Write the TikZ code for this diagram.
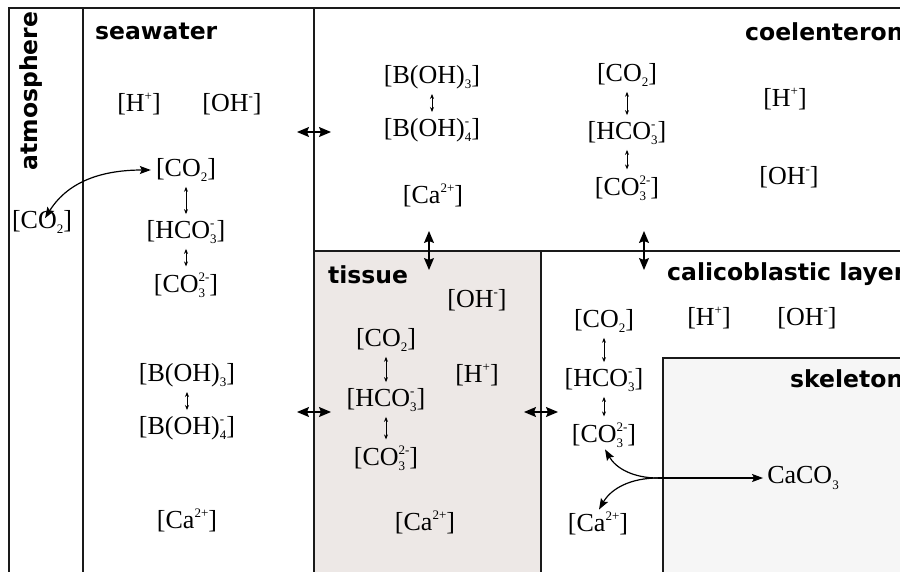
\documentclass[tikz,border=0pt]{standalone}
\usepackage{fontspec}
\setmainfont{Liberation Serif}
\newfontfamily\labfont{DejaVu Sans}
\usetikzlibrary{arrows.meta}
\definecolor{tissuefill}{HTML}{EDE8E6}
\definecolor{skelfill}{HTML}{F6F6F6}
\definecolor{linecol}{HTML}{1A1A1A}
\newbox\chboxA
\newbox\chboxB
\newcommand\chsub[1]{\raisebox{-0.2em}{\fontsize{13}{13}\selectfont #1}}
\newcommand\chsup[1]{\raisebox{0.42em}{\fontsize{13}{13}\selectfont #1}}
\newcommand\chsbsp[2]{\setbox\chboxA=\hbox{\chsub{#1}}\setbox\chboxB=\hbox{\chsup{#2}}\ifdim\wd\chboxA>\wd\chboxB\relax\rlap{\box\chboxB}\box\chboxA\else\rlap{\box\chboxA}\box\chboxB\fi}
\tikzset{
  chem/.style={inner sep=0pt, font=\fontsize{26}{28}\selectfont},
  region/.style={font=\labfont\bfseries\fontsize{23.5}{26}\selectfont, inner sep=0pt},
  border/.style={draw=linecol, line width=1.4pt},
  smallarr/.style={{Stealth[length=5pt,width=4pt]}-{Stealth[length=5pt,width=4pt]}, line width=0.8pt},
  bigarr/.style={{Stealth[length=12pt,width=10pt,inset=2pt]}-{Stealth[length=12pt,width=10pt,inset=2pt]}, line width=1.2pt},
  midtip/.style={-{Stealth[length=11pt,width=8pt,inset=2pt]}, line width=1.2pt},
}
\begin{document}
\begin{tikzpicture}[x=1pt,y=-1pt]
\useasboundingbox (0,0) rectangle (900,571);
\begin{scope}
\clip (0,0) rectangle (900,571);
% regions
\fill[tissuefill] (314,251) rectangle (541,575);
\filldraw[skelfill, border] (663,358) rectangle (910,580);
\draw[border] (9,575) -- (9,8) -- (905,8);
\draw[border] (83,8) -- (83,575);
\draw[border] (314,8) -- (314,575);
\draw[border] (314,251) -- (905,251);
\draw[border] (541,251) -- (541,575);
% region labels
\node[region, rotate=90, anchor=base] (latm) at (37,91) {atmosphere};
\node[region, anchor=base west] (lsea) at (95,39) {seawater};
\node[region, anchor=base west] (lcoel) at (745,40) {coelenteron};
\node[region, anchor=base west] (ltis) at (328,283) {tissue};
\node[region, anchor=base west] (lcal) at (667,280) {calicoblastic layer};
\node[region, anchor=base west] (lskel) at (790,387) {skeleton};
\end{scope}
% atmosphere
\node[chem] (aco2) at (42,222) {[CO\chsub{2}]};
% seawater
\node[chem] (sh) at (139,104) {[H\chsup{+}]};
\node[chem] (soh) at (232,104) {[OH\chsup{-}]};
\node[chem] (sco2) at (186,170) {[CO\chsub{2}]};
\node[chem] (shco3) at (186,232) {[HCO\chsbsp{3}{-}]};
\node[chem] (sco3) at (186,285) {[CO\chsbsp{3}{2-}]};
\node[chem] (sb3) at (187,375) {[B(OH)\chsub{3}]};
\node[chem] (sb4) at (187,428) {[B(OH)\chsbsp{4}{-}]};
\node[chem] (sca) at (187,520) {[Ca\chsup{2+}]};
% coelenteron
\node[chem] (cb3) at (432,77) {[B(OH)\chsub{3}]};
\node[chem] (cb4) at (432,130) {[B(OH)\chsbsp{4}{-}]};
\node[chem] (cca) at (433,195) {[Ca\chsup{2+}]};
\node[chem] (cco2) at (627,75) {[CO\chsub{2}]};
\node[chem] (chco3) at (627,133) {[HCO\chsbsp{3}{-}]};
\node[chem] (cco3) at (627,188) {[CO\chsbsp{3}{2-}]};
\node[chem] (ch) at (785,99) {[H\chsup{+}]};
\node[chem] (coh) at (789,177) {[OH\chsup{-}]};
% tissue
\node[chem] (toh) at (477,300) {[OH\chsup{-}]};
\node[chem] (tco2) at (386,340) {[CO\chsub{2}]};
\node[chem] (th) at (477,375) {[H\chsup{+}]};
\node[chem] (thco3) at (386,400) {[HCO\chsbsp{3}{-}]};
\node[chem] (tco3) at (386,458) {[CO\chsbsp{3}{2-}]};
\node[chem] (tca) at (425,522) {[Ca\chsup{2+}]};
% calicoblastic layer
\node[chem] (kco2) at (604,321) {[CO\chsub{2}]};
\node[chem] (kh) at (709,318) {[H\chsup{+}]};
\node[chem] (koh) at (807,318) {[OH\chsup{-}]};
\node[chem] (khco3) at (604,380) {[HCO\chsbsp{3}{-}]};
\node[chem] (kco3) at (604,435) {[CO\chsbsp{3}{2-}]};
\node[chem] (kca) at (598,523) {[Ca\chsup{2+}]};
% skeleton
\node[chem] (caco3) at (803,478) {CaCO\chsub{3}};
% small equilibrium arrows
\foreach \a/\b in {sco2/shco3, shco3/sco3, sb3/sb4, cb3/cb4, cco2/chco3, chco3/cco3, tco2/thco3, thco3/tco3, kco2/khco3, khco3/kco3}
  \draw[smallarr] ([yshift=-5pt]\a.south) -- ([yshift=6pt]\a.south |- \b.north);
% exchange arrows across boundaries
\coordinate (e1) at (314,132);
\draw[bigarr] ([xshift=-17pt]e1) -- ([xshift=17pt]e1);
\coordinate (e2) at (314,412);
\draw[bigarr] ([xshift=-17pt]e2) -- ([xshift=17pt]e2);
\coordinate (e3) at (541,412);
\draw[bigarr] ([xshift=-17pt]e3) -- ([xshift=17pt]e3);
\coordinate (e4) at (429,251);
\draw[bigarr] ([yshift=-19pt]e4) -- ([yshift=20pt]e4);
\coordinate (e5) at (644,251);
\draw[bigarr] ([yshift=-19pt]e5) -- ([yshift=20pt]e5);
% air-sea exchange
\draw[midtip, {Stealth[length=11pt,width=8pt,inset=2pt]}-{Stealth[length=11pt,width=8pt,inset=2pt]}] ([xshift=3pt,yshift=-8pt]aco2.north) to[out=58,in=180] ([xshift=-5pt]sco2.west);
% precipitation
\coordinate (j) at (658,478);
\draw[midtip, shorten >=4pt] (j) -- (caco3.west);
\draw[midtip, shorten >=2pt] (j) to[out=180,in=-60] (kco3.south);
\draw[midtip, shorten >=2pt] (j) to[out=180,in=60] (kca.north);
\end{tikzpicture}
\end{document}
